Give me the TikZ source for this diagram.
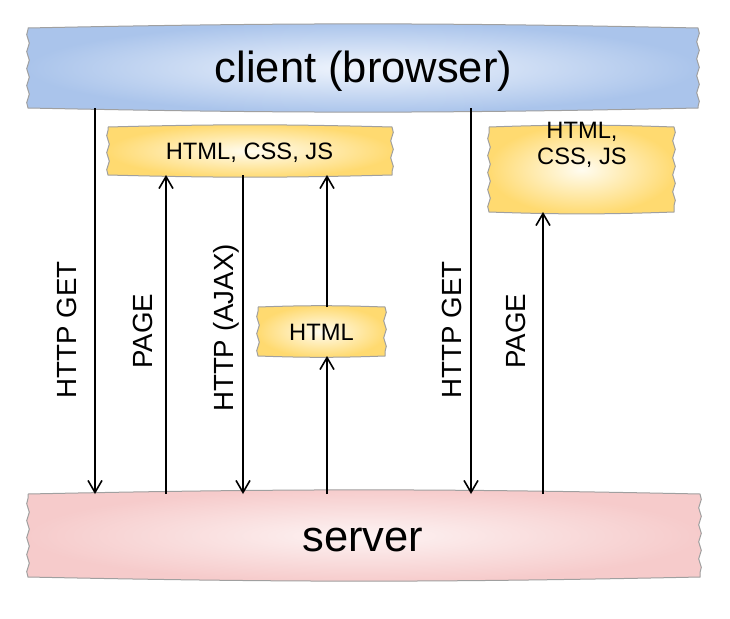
\documentclass[tikz,border=0pt]{standalone}
\usepackage{fontspec}
\setmainfont{Liberation Sans}
\usetikzlibrary{arrows.meta,decorations.pathmorphing}
\definecolor{bluein}{HTML}{F0F5FD}
\definecolor{blueout}{HTML}{AAC4EB}
\definecolor{pinkin}{HTML}{FDF3F3}
\definecolor{pinkout}{HTML}{F6CBCB}
\definecolor{yelin}{HTML}{FFFCF0}
\definecolor{yelout}{HTML}{FFDA70}
\definecolor{edgegray}{HTML}{A0A0A0}
\tikzset{
  shapebox/.style={inner sep=0pt, outer sep=0pt},
  bigtxt/.style={inner sep=0pt, anchor=base, font=\fontsize{43.5}{50}\selectfont},
  boxtxt/.style={inner sep=0pt, anchor=base, align=center, font=\fontsize{23.7}{26}\selectfont},
  lbl/.style={rotate=90, inner sep=0pt, font=\fontsize{27.7}{30}\selectfont},
  conn/.style={line width=1.6pt, -{Straight Barb[length=12pt,width=14pt]}},
  wig/.style={decoration={snake,segment length=17pt,amplitude=1.3pt}},
}
\newcommand\roughshape[3]{%
  \path[draw=edgegray, line width=1pt, inner color=#2in, outer color=#2out]
    (#1.north west) to[bend left=#3] (#1.north east)
    decorate[wig]{-- (#1.south east)}
    to[bend left=#3] (#1.south west)
    decorate[wig]{-- (#1.north west)} -- cycle;}
\begin{document}
\begin{tikzpicture}[x=1pt,y=-1pt]
\useasboundingbox (0,0) rectangle (730,618);
% shapes
\node[shapebox, minimum width=670pt, minimum height=80pt] (client) at (363,68) {};
\node[shapebox, minimum width=672pt, minimum height=83pt] (server) at (364,535.5) {};
\node[shapebox, minimum width=284pt, minimum height=48pt] (b1) at (250,151) {};
\node[shapebox, minimum width=185pt, minimum height=85pt] (b2) at (581.5,169.5) {};
\node[shapebox, minimum width=127pt, minimum height=49pt] (b3) at (321.5,331.5) {};
\roughshape{client}{blue}{1.2}
\roughshape{server}{pink}{1.2}
\roughshape{b1}{yel}{1.5}
\roughshape{b2}{yel}{2}
\roughshape{b3}{yel}{2}
% texts
\node[bigtxt] (clienttxt) at (363.5,82) {client (browser)};
\node[bigtxt] (servertxt) at (362.7,551) {server};
\node[boxtxt] (b1txt) at (249.5,159) {HTML, CSS, JS};
\node[boxtxt] (b2txt) at (582,164) {HTML,\\CSS, JS};
\node[boxtxt] (b3txt) at (321.5,340) {HTML};
% connectors
\draw[conn] (client.south -| 95,0) -- (server.north -| 95,0);
\draw[conn] (server.north -| 166,0) -- (b1.south -| 166,0);
\draw[conn] (b1.south -| 243,0) -- (server.north -| 243,0);
\draw[conn] (server.north -| 327,0) -- (b3.south -| 327,0);
\draw[conn] (b3.north -| 327,0) -- (b1.south -| 327,0);
\draw[conn] (client.south -| 471,0) -- (server.north -| 471,0);
\draw[conn] (server.north -| 543,0) -- (b2.south -| 543,0);
% labels
\node[lbl] (l1) at (67,330) {HTTP GET};
\node[lbl] (l2) at (142.5,331) {PAGE};
\node[lbl] (l3) at (226,328) {HTTP (AJAX)};
\node[lbl] (l4) at (451.5,330) {HTTP GET};
\node[lbl] (l5) at (515.5,331) {PAGE};
\end{tikzpicture}
\end{document}
